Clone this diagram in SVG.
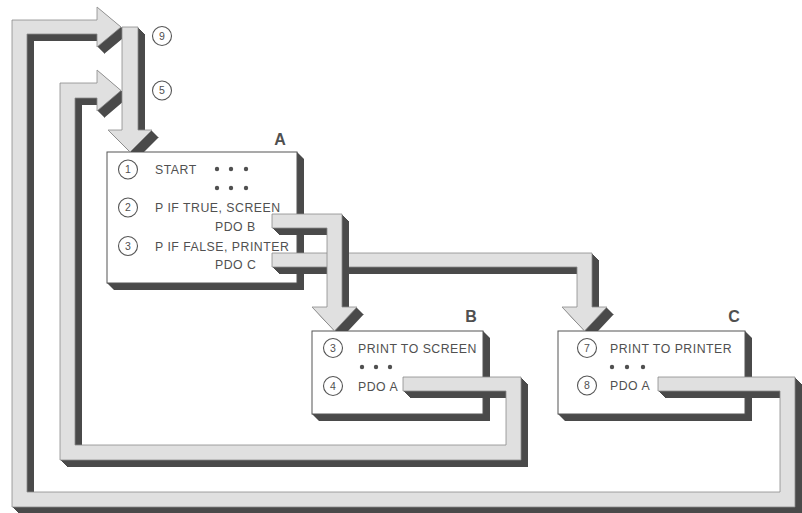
<svg xmlns="http://www.w3.org/2000/svg" width="802" height="513" viewBox="0 0 802 513">
<style>
.box{fill:#fff;stroke:#555;stroke-width:1}
.bsh{fill:#4a4a4a}
.face{fill:#e0e0e0;stroke:#8a8a8a;stroke-width:0.8}
.sh{fill:#4a4a4a;stroke:none}
.num{fill:#fff;stroke:#555;stroke-width:1.1}
.t{font-family:"Liberation Sans",Arial,sans-serif;font-size:12.3px;letter-spacing:0.5px;fill:#505050}
.n{font-family:"Liberation Sans",Arial,sans-serif;font-size:10.5px;fill:#505050;text-anchor:middle}
.lbl{font-family:"Liberation Sans",Arial,sans-serif;font-size:16px;font-weight:bold;fill:#505050;text-anchor:middle}
.dot{fill:#505050}
</style>
<defs>
<polygon id="pOuter" points="658,377 795,377 795,507 12,507 12,20 97,20 97,7 121,27 97,47 97,34 27,34 27,492 780,492 780,391 658,391"/>
<polygon id="pInner" points="403,377 521,377 521,460 60,460 60,83 97,83 97,70 121,90.5 97,111 97,98 75,98 75,445 506,445 506,391 403,391"/>
<polygon id="pFeed" points="122,27 138,27 138,130 152,130 130,152 108,130 122,130"/>
<polygon id="pAB" points="272,214 342,214 342,307 357,307 334.5,331 312,307 327,307 327,228 272,228"/>
<polygon id="pAC" points="272,253 592,253 592,307 607,307 584.5,331 562,307 577,307 577,267 272,267"/>
<clipPath id="notA"><path clip-rule="evenodd" d="M0 0H802V513H0Z M107 152H297V283H107Z"/></clipPath>
<clipPath id="notB"><path clip-rule="evenodd" d="M0 0H802V513H0Z M312 331H483V414H312Z"/></clipPath>
<clipPath id="notC"><path clip-rule="evenodd" d="M0 0H802V513H0Z M558 331H745V414H558Z"/></clipPath>
</defs>
<rect width="802" height="513" fill="#fff"/>

<g id="nodeA">
<polygon class="bsh" points="107,152 297,152 304,159 304,290 114,290 107,283"/>
<rect class="box" x="107" y="152" width="190" height="131"/>
<text class="lbl" x="280" y="145">A</text>
<circle class="num" cx="128" cy="169.5" r="9.5"/><text class="n" x="128" y="173.3">1</text>
<text class="t" x="155" y="174">START</text>
<circle class="dot" cx="217" cy="169" r="2.2"/><circle class="dot" cx="231" cy="169" r="2.2"/><circle class="dot" cx="246" cy="169" r="2.2"/>
<circle class="dot" cx="217" cy="188" r="2.2"/><circle class="dot" cx="231" cy="188" r="2.2"/><circle class="dot" cx="246" cy="188" r="2.2"/>
<circle class="num" cx="128" cy="207.5" r="9.5"/><text class="n" x="128" y="211.3">2</text>
<text class="t" x="155" y="212">P IF TRUE, SCREEN</text>
<text class="t" x="215" y="231">PDO B</text>
<circle class="num" cx="128" cy="246" r="9.5"/><text class="n" x="128" y="249.8">3</text>
<text class="t" x="155" y="250.5">P IF FALSE, PRINTER</text>
<text class="t" x="215" y="269">PDO C</text>
</g>

<g id="nodeB">
<polygon class="bsh" points="312,331 483,331 490,338 490,421 319,421 312,414"/>
<rect class="box" x="312" y="331" width="171" height="83"/>
<text class="lbl" x="471" y="322">B</text>
<circle class="num" cx="333" cy="348" r="9.5"/><text class="n" x="333" y="351.8">3</text>
<text class="t" x="358" y="352.5">PRINT TO SCREEN</text>
<circle class="dot" cx="362" cy="367" r="2.2"/><circle class="dot" cx="376" cy="367" r="2.2"/><circle class="dot" cx="390" cy="367" r="2.2"/>
<circle class="num" cx="333" cy="386" r="9.5"/><text class="n" x="333" y="389.8">4</text>
<text class="t" x="358" y="390.5">PDO A</text>
</g>

<g id="nodeC">
<polygon class="bsh" points="558,331 745,331 752,338 752,421 565,421 558,414"/>
<rect class="box" x="558" y="331" width="187" height="83"/>
<text class="lbl" x="734" y="322">C</text>
<circle class="num" cx="587" cy="348" r="9.5"/><text class="n" x="587" y="351.8">7</text>
<text class="t" x="610" y="352.5">PRINT TO PRINTER</text>
<circle class="dot" cx="612" cy="367" r="2.2"/><circle class="dot" cx="627" cy="367" r="2.2"/><circle class="dot" cx="643" cy="367" r="2.2"/>
<circle class="num" cx="587" cy="385.5" r="9.5"/><text class="n" x="587" y="389.3">8</text>
<text class="t" x="610" y="390">PDO A</text>
</g>

<g id="connectors">
<g id="loop9">
<g class="sh"><use href="#pOuter" x="1" y="1"/><use href="#pOuter" x="2" y="2"/><use href="#pOuter" x="3" y="3"/><use href="#pOuter" x="4" y="4"/><use href="#pOuter" x="5" y="5"/><use href="#pOuter" x="6" y="6"/><use href="#pOuter" x="7" y="7"/></g>
<use href="#pOuter" class="face"/>
<circle class="num" cx="162" cy="36" r="9.5"/><text class="n" x="162" y="39.8">9</text>
</g>
<g id="loop5">
<g class="sh"><use href="#pInner" x="1" y="1"/><use href="#pInner" x="2" y="2"/><use href="#pInner" x="3" y="3"/><use href="#pInner" x="4" y="4"/><use href="#pInner" x="5" y="5"/><use href="#pInner" x="6" y="6"/><use href="#pInner" x="7" y="7"/></g>
<use href="#pInner" class="face"/>
<circle class="num" cx="162" cy="90.5" r="9.5"/><text class="n" x="162" y="94.3">5</text>
</g>
<g id="feed">
<g class="sh" clip-path="url(#notA)"><use href="#pFeed" x="1" y="1"/><use href="#pFeed" x="2" y="2"/><use href="#pFeed" x="3" y="3"/><use href="#pFeed" x="4" y="4"/><use href="#pFeed" x="5" y="5"/><use href="#pFeed" x="6" y="6"/><use href="#pFeed" x="7" y="7"/></g>
<use href="#pFeed" class="face"/>
</g>
<g id="a-to-c">
<g class="sh" clip-path="url(#notC)"><use href="#pAC" x="1" y="1"/><use href="#pAC" x="2" y="2"/><use href="#pAC" x="3" y="3"/><use href="#pAC" x="4" y="4"/><use href="#pAC" x="5" y="5"/><use href="#pAC" x="6" y="6"/><use href="#pAC" x="7" y="7"/></g>
<use href="#pAC" class="face"/>
</g>
<g id="a-to-b">
<g class="sh" clip-path="url(#notB)"><use href="#pAB" x="1" y="1"/><use href="#pAB" x="2" y="2"/><use href="#pAB" x="3" y="3"/><use href="#pAB" x="4" y="4"/><use href="#pAB" x="5" y="5"/><use href="#pAB" x="6" y="6"/><use href="#pAB" x="7" y="7"/></g>
<use href="#pAB" class="face"/>
</g>
</g>
</svg>
